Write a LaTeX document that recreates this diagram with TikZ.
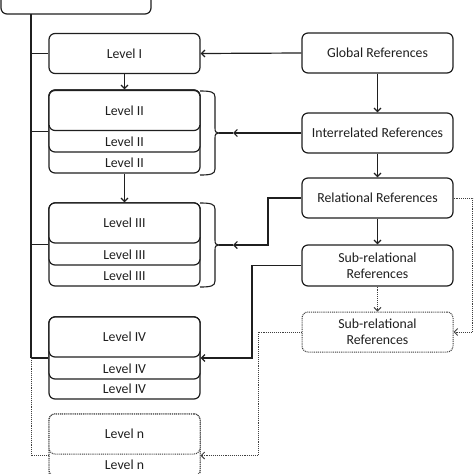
\documentclass[tikz,border=0pt]{standalone}
\usepackage{fontspec}
\setmainfont{Carlito}
\usetikzlibrary{arrows.meta,calc}
\begin{document}
\begin{tikzpicture}[x=1pt,y=-1pt,
  line width=1.2pt,
  box/.style={draw=black!88, line width=1.2pt, rounded corners=6pt, fill=white,
    minimum width=151pt, inner sep=0pt, font=\fontsize{13.8}{16}\selectfont, align=center},
  txt/.style={inner sep=0pt, font=\fontsize{13.8}{16}\selectfont},
  dotl/.style={draw=black!75, line width=1pt, dash pattern=on 1pt off 0.9pt},
  arr/.style={-{Straight Barb[length=3.5pt,width=7pt]}},
]
\useasboundingbox (0,0) rectangle (474,474);
\clip (0,0) rectangle (474,474);
\begin{scope}[color=black!88]
% ---- left column ----
\node[box, minimum width=150pt, minimum height=54pt] (top) at (76,-13) {};
\coordinate (s0) at (31,14);

\node[box, minimum height=40pt] (l1) at (124.5,53.5) {Level I};

\node[box, minimum height=83pt] (l2) at (124.5,131.5) {};
\node[box, minimum height=62pt] (l2b) at (124.5,121) {};
\node[box, minimum height=40pt] (l2a) at (124.5,110.5) {Level II};
\node[txt] (l2bt) at (124.5,142) {Level II};
\node[txt] (l2ct) at (124.5,162.5) {Level II};

\node[box, minimum height=83pt] (l3) at (124.5,244.5) {};
\node[box, minimum height=62pt] (l3b) at (124.5,234) {};
\node[box, minimum height=40pt] (l3a) at (124.5,223) {Level III};
\node[txt] (l3bt) at (124.5,254.5) {Level III};
\node[txt] (l3ct) at (124.5,275.5) {Level III};

\node[box, minimum height=82pt] (l4) at (124.5,358) {};
\node[box, minimum height=62pt] (l4b) at (124.5,348) {};
\node[box, minimum height=40pt] (l4a) at (124.5,337) {Level IV};
\node[txt] (l4bt) at (124.5,368.5) {Level IV};
\node[txt] (l4ct) at (124.5,389) {Level IV};

\node[box, dotl, minimum height=83pt] (ln) at (124.5,455.5) {};
\node[box, dotl, minimum height=62pt] (lnb) at (124.5,445) {};
\node[box, dotl, minimum height=40pt] (lna) at (124.5,434) {Level n};
\node[txt] (lnbt) at (124.5,465) {Level n};

% spine
\draw (s0) -- (s0 |- l4.west);
\draw (s0 |- l1.west) -- (l1.west);
\draw (s0 |- l2.west) -- (l2.west);
\draw (s0 |- l3.west) -- (l3.west);
\draw (s0 |- l4.west) -- (l4.west);
\draw[dotl] (s0 |- l4.west) |- (ln.west);

\draw[arr] (l1.south) -- (l2.north);
\draw[arr] (l2.south) -- (l3.north);

% braces
\foreach \yt/\yb in {91/175, 203/287}{
  \pgfmathsetmacro{\ym}{(\yt+\yb)/2}
  \draw[line width=1.1pt] (200,\yt) .. controls (211,\yt) and (215,\yt+1) .. (215,\yt+6)
     -- (215,\ym-5) .. controls (215,\ym-1) and (216,\ym) .. (219,\ym)
     .. controls (216,\ym) and (215,\ym+1) .. (215,\ym+5)
     -- (215,\yb-6) .. controls (215,\yb-1) and (211,\yb) .. (200,\yb);
}
\coordinate (b2) at (219,133);
\coordinate (a2) at (233,133);
\coordinate (b3) at (219,245);
\coordinate (a3) at (233,245);
\coordinate (k3) at (268,245);
\coordinate (k4) at (252,358);
\coordinate (kn) at (258,400);

% ---- right column ----
\node[box, minimum height=40pt] (glob) at (377.5,53) {Global References};
\node[box, minimum height=40pt] (inter) at (377.5,133) {Interrelated References};
\node[box, minimum height=40pt] (rel) at (377.5,198) {Relational References};
\node[box, minimum height=41pt] (sub) at (377.5,265.5) {Sub-relational\\References};
\node[box, dotl, minimum height=40pt] (dsub) at (377.5,332) {Sub-relational\\References};

\draw[arr] (glob.south) -- (inter.north);
\draw[arr] (inter.south) -- (rel.north);
\draw[arr] (rel.south) -- (sub.north);
\draw[dotl, arr] (sub.south) -- (dsub.north);

\draw[arr] (glob.west) -- (l1.east);
\draw[arr] (inter.west) -- (a2);
\draw (a2) -- (b2);
\draw[arr] (rel.west) -| (k3) -- (a3);
\draw (a3) -- (b3);
\draw[arr] (sub.west) -| (k4) -- (l4.east);
\draw[dotl, arr] (rel.east) -- ++(19,0) |- (dsub.east);
\draw[dotl, arr] (dsub.west) -| (kn) |- (ln.east);
\end{scope}
\end{tikzpicture}
\end{document}
